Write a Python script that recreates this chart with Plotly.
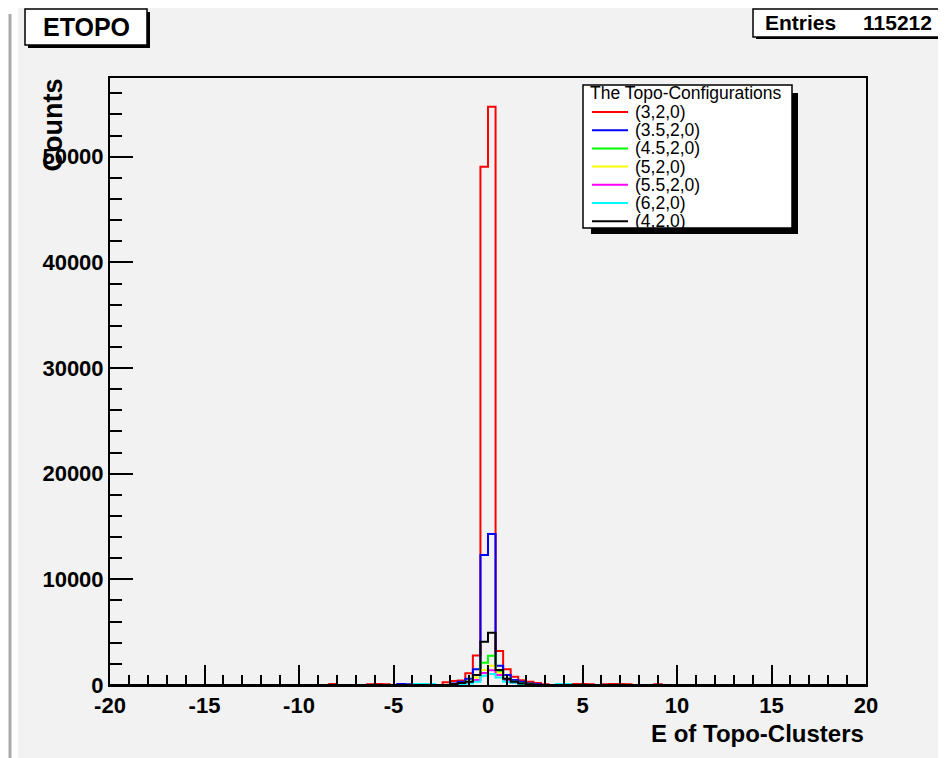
import numpy as np
import plotly.graph_objects as go

# ---------------- data ----------------
x_low, x_high, bin_width = -20.0, 20.0, 0.4

series_names = ["(3,2,0)", "(3.5,2,0)", "(4.5,2,0)", "(5,2,0)", "(5.5,2,0)", "(6,2,0)", "(4,2,0)"]
series_colors = ["#ff0000", "#0000ff", "#00ff00", "#ffff00", "#ff00ff", "#00ffff", "#000000"]

# lower bin edges of the central bins
core_edges = [-2.4, -2.0, -1.6, -1.2, -0.8, -0.4, 0.0, 0.4, 0.8, 1.2, 1.6, 2.0, 2.4]
red_core = [250, 380, 420, 1120, 2800, 49050, 54720, 3210, 1480, 790, 450, 300, 200]
blue_core = [0, 150, 310, 600, 1500, 12300, 14300, 1820, 950, 470, 310, 150, 80]
green_core = [0, 80, 150, 300, 950, 2110, 2770, 1260, 600, 310, 150, 80, 0]
yellow_core = [0, 0, 100, 220, 700, 1420, 1820, 1160, 470, 220, 100, 0, 0]
magenta_core = [0, 0, 80, 220, 470, 1130, 1390, 950, 470, 200, 80, 0, 0]
cyan_core = [0, 0, 60, 150, 310, 880, 1040, 700, 310, 220, 80, 0, 0]
black_core = [0, 100, 200, 310, 950, 4100, 4950, 1420, 600, 310, 150, 80, 0]

# small tail bins (lower edges, counts)
red_tail_edges = [-8.4, -6.4, -6.0, -5.6, 2.8, 4.4, 4.8, 5.2, 6.0, 6.4, 6.8, 7.2, 8.8]
red_tail = [90, 80, 100, 80, 60, 90, 100, 70, 80, 100, 90, 70, 60]
blue_tail_edges = [-4.8, -4.4]
blue_tail = [90, 80]
cyan_tail_edges = [-4.0, -3.6, -3.2, 3.6, 4.0]
cyan_tail = [100, 100, 90, 100, 90]

x_ticks = [-20, -15, -10, -5, 0, 5, 10, 15, 20]
y_ticks = [0, 10000, 20000, 30000, 40000, 50000]

# ---------------- build histograms ----------------
n_bins = int(round((x_high - x_low) / bin_width))
edges = np.linspace(x_low, x_high, n_bins + 1)


def make_hist(core, tail_edges=(), tail=()):
    h = np.zeros(n_bins)
    for e, v in zip(core_edges, core):
        h[int(round((e - x_low) / bin_width))] = v
    for e, v in zip(tail_edges, tail):
        h[int(round((e - x_low) / bin_width))] = v
    return h


hists = [
    make_hist(red_core, red_tail_edges, red_tail),
    make_hist(blue_core, blue_tail_edges, blue_tail),
    make_hist(green_core),
    make_hist(yellow_core),
    make_hist(magenta_core),
    make_hist(cyan_core, cyan_tail_edges, cyan_tail),
    make_hist(black_core),
]

# ---------------- figure geometry ----------------
# page body has an 8px margin: figure occupies screen pixels 8..946 x 8..758
OFF = 8
SW, SH = 946, 758                 # screen size
L, R, T, B = 110, 866, 78, 685    # plot area in screen pixels
W, H = SW - OFF, SH - OFF


def px(xp):
    return (xp - L) / (R - L)


def py(yp):
    return (B - yp) / (B - T)


fig = go.Figure()
for name, col, h in zip(series_names, series_colors, hists):
    fig.add_trace(go.Scatter(
        x=edges, y=np.append(h, h[-1]), mode="lines", line_shape="hv",
        line=dict(color=col, width=2), name=name, showlegend=False,
        hoverinfo="skip"))

BG = "#f2f2f2"
tick_font = dict(family="Liberation Sans, Arial, sans-serif", size=22, color="black", weight="bold")

fig.update_layout(
    width=W, height=H,
    margin=dict(l=L - OFF, r=SW - R, t=T - OFF, b=SH - B),
    paper_bgcolor=BG, plot_bgcolor=BG,
    xaxis=dict(range=[x_low, x_high], tickvals=x_ticks, ticktext=[str(v) for v in x_ticks],
               ticks="inside", ticklen=20, tickwidth=1.5, tickcolor="black",
               minor=dict(dtick=1, ticks="inside", ticklen=10, tickwidth=1.5, tickcolor="black"),
               showline=True, linecolor="black", linewidth=2, mirror=True,
               showgrid=False, zeroline=False, tickfont=tick_font),
    yaxis=dict(range=[0, 57450], tickvals=y_ticks, ticktext=[str(v) for v in y_ticks],
               ticks="inside", ticklen=23, tickwidth=1.5, tickcolor="black",
               minor=dict(dtick=2000, ticks="inside", ticklen=12, tickwidth=1.5, tickcolor="black"),
               showline=True, linecolor="black", linewidth=2, mirror=True,
               showgrid=False, zeroline=False, tickfont=tick_font),
)

shapes = []
ann = []

# left white strip with grey rule
shapes.append(dict(type="rect", xref="paper", yref="paper", x0=px(OFF), x1=px(18), y0=py(SH), y1=py(OFF),
                   fillcolor="white", line=dict(width=0), layer="below"))
shapes.append(dict(type="line", xref="paper", yref="paper", x0=px(10), x1=px(10), y0=py(SH), y1=py(14),
                   line=dict(color="#aaaaaa", width=3)))

# title box
shapes.append(dict(type="rect", xref="paper", yref="paper", x0=px(28), x1=px(150), y0=py(48), y1=py(12),
                   fillcolor="black", line=dict(width=0)))
shapes.append(dict(type="rect", xref="paper", yref="paper", x0=px(25), x1=px(147), y0=py(45), y1=py(9),
                   fillcolor="white", line=dict(color="black", width=1.5)))
ann.append(dict(text="ETOPO", x=px(86), y=py(27), xref="paper", yref="paper", showarrow=False,
                xanchor="center", yanchor="middle",
                font=dict(family="Liberation Sans, Arial", size=25, color="black", weight="bold")))

# stats box
shapes.append(dict(type="rect", xref="paper", yref="paper", x0=px(756), x1=px(946), y0=py(39), y1=py(12),
                   fillcolor="black", line=dict(width=0)))
shapes.append(dict(type="rect", xref="paper", yref="paper", x0=px(753), x1=px(943), y0=py(37), y1=py(9),
                   fillcolor="white", line=dict(color="black", width=1.5)))
stat_font = dict(family="Liberation Sans, Arial", size=21, color="black", weight="bold")
ann.append(dict(text="Entries", x=px(763), y=py(22), xref="paper", yref="paper", showarrow=False,
                xanchor="left", yanchor="middle", font=stat_font))
ann.append(dict(text="115212", x=px(934), y=py(22), xref="paper", yref="paper", showarrow=False,
                xanchor="right", yanchor="middle", font=stat_font))

# legend box
shapes.append(dict(type="rect", xref="paper", yref="paper", x0=px(591), x1=px(798), y0=py(234), y1=py(93),
                   fillcolor="black", line=dict(width=0)))
shapes.append(dict(type="rect", xref="paper", yref="paper", x0=px(583), x1=px(792), y0=py(228), y1=py(85),
                   fillcolor="white", line=dict(color="black", width=1.5)))
leg_font = dict(family="Liberation Sans, Arial", size=17.5, color="black")
ann.append(dict(text="The Topo-Configurations", x=px(588), y=py(93), xref="paper", yref="paper",
                showarrow=False, xanchor="left", yanchor="middle", font=leg_font))
row_y0, row_dy = 112, 18.2
for i, (name, col) in enumerate(zip(series_names, series_colors)):
    yy = row_y0 + i * row_dy
    shapes.append(dict(type="line", xref="paper", yref="paper", x0=px(592), x1=px(628), y0=py(yy), y1=py(yy),
                       line=dict(color=col, width=2)))
    ann.append(dict(text=name, x=px(633), y=py(yy), xref="paper", yref="paper", showarrow=False,
                    xanchor="left", yanchor="middle", font=leg_font))

# axis titles
ann.append(dict(text="E of Topo-Clusters", x=px(866), y=py(733), xref="paper", yref="paper",
                showarrow=False, xanchor="right", yanchor="middle",
                font=dict(family="Liberation Sans, Arial", size=24, color="black", weight="bold")))
ann.append(dict(text="Counts", x=px(52), y=py(77), xref="paper", yref="paper", textangle=-90,
                showarrow=False, xanchor="center", yanchor="top",
                font=dict(family="Liberation Sans, Arial", size=27, color="black", weight="bold")))

fig.update_layout(shapes=shapes, annotations=ann)
fig.write_html("out.html")
